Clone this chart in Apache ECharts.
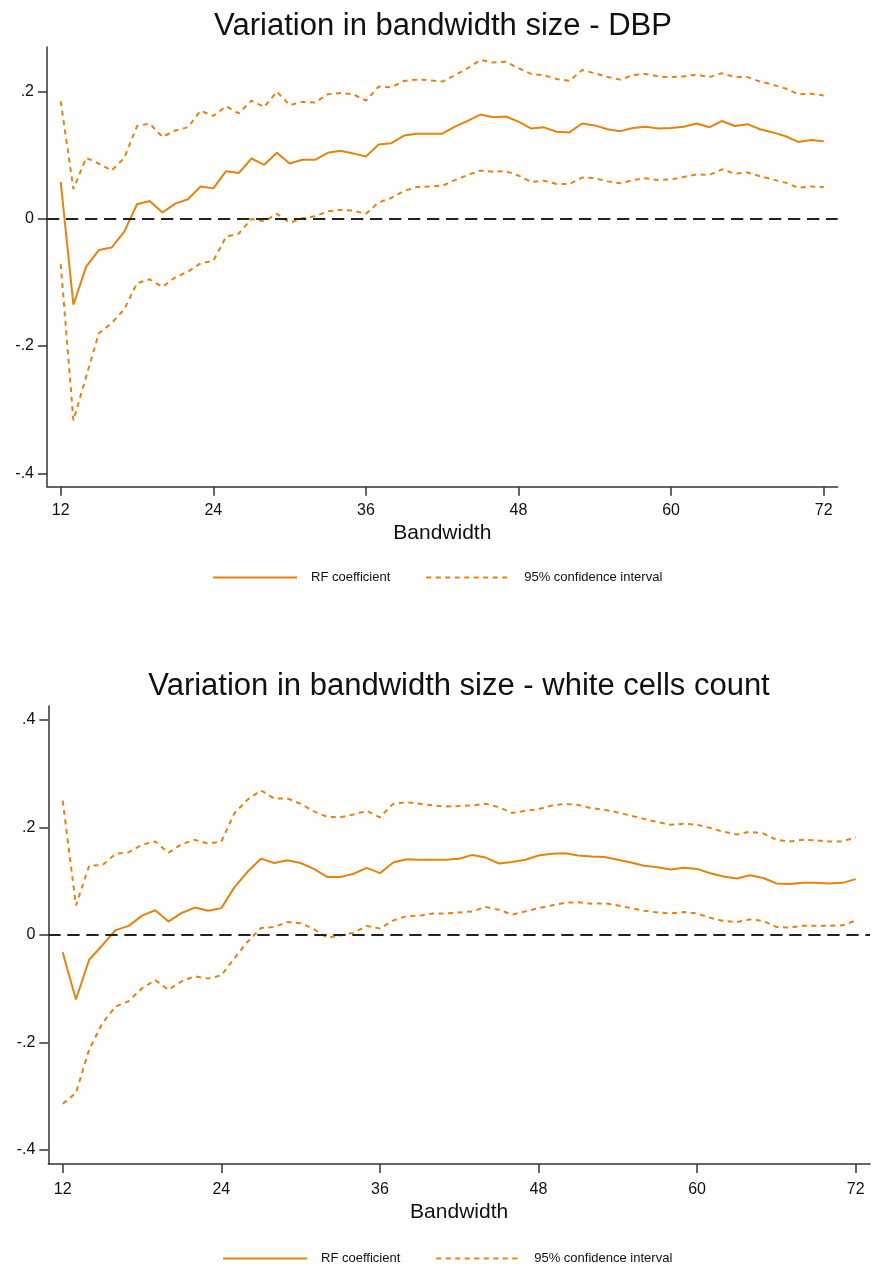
<!DOCTYPE html>
<html>
<head>
<meta charset="utf-8">
<script src="https://cdn.jsdelivr.net/npm/echarts@6/dist/echarts.min.js"></script>
<style>
html,body{margin:0;padding:0;background:#fff;}
#chart{width:872px;height:1268px;}
</style>
</head>
<body>
<div id="chart"></div>
<script>
// ---- Data ----
const bandwidth = [12,13,14,15,16,17,18,19,20,21,22,23,24,25,26,27,28,29,30,31,32,33,34,35,36,37,38,39,40,41,42,43,44,45,46,47,48,49,50,51,52,53,54,55,56,57,58,59,60,61,62,63,64,65,66,67,68,69,70,71,72];
const xTicks = [12,24,36,48,60,72];

const dbpTitle = 'Variation in bandwidth size - DBP';
const dbpYTicks = [-0.4,-0.2,0,0.2];
const dbpCoef = [0.058,-0.135,-0.075,-0.049,-0.045,-0.020,0.023,0.028,0.010,0.024,0.031,0.051,0.048,0.075,0.072,0.095,0.085,0.104,0.087,0.093,0.093,0.104,0.107,0.103,0.098,0.117,0.119,0.131,0.134,0.134,0.134,0.145,0.154,0.164,0.160,0.161,0.153,0.142,0.144,0.137,0.136,0.150,0.147,0.141,0.138,0.143,0.145,0.142,0.143,0.145,0.150,0.144,0.154,0.146,0.149,0.141,0.136,0.130,0.121,0.124,0.122];
const dbpUpper = [0.185,0.047,0.096,0.087,0.076,0.096,0.146,0.150,0.129,0.139,0.144,0.170,0.162,0.177,0.166,0.186,0.176,0.200,0.179,0.184,0.183,0.196,0.198,0.196,0.186,0.208,0.207,0.217,0.219,0.218,0.216,0.226,0.237,0.250,0.246,0.247,0.237,0.228,0.226,0.220,0.217,0.234,0.229,0.223,0.219,0.226,0.228,0.224,0.223,0.224,0.227,0.223,0.229,0.223,0.223,0.216,0.211,0.205,0.196,0.197,0.194];
const dbpLower = [-0.071,-0.317,-0.248,-0.180,-0.164,-0.142,-0.101,-0.095,-0.107,-0.092,-0.083,-0.070,-0.066,-0.028,-0.023,0.000,-0.004,0.008,-0.006,0.001,0.004,0.012,0.014,0.013,0.008,0.026,0.033,0.044,0.050,0.051,0.052,0.061,0.069,0.076,0.074,0.075,0.068,0.058,0.060,0.055,0.055,0.065,0.064,0.059,0.056,0.061,0.064,0.061,0.062,0.066,0.070,0.069,0.078,0.071,0.073,0.067,0.062,0.057,0.049,0.051,0.050];

const wbcTitle = 'Variation in bandwidth size - white cells count';
const wbcYTicks = [-0.4,-0.2,0,0.2,0.4];
const wbcCoef = [-0.032,-0.120,-0.046,-0.019,0.009,0.017,0.036,0.046,0.025,0.041,0.051,0.045,0.050,0.089,0.118,0.142,0.134,0.139,0.134,0.123,0.108,0.108,0.114,0.125,0.115,0.135,0.141,0.140,0.140,0.140,0.142,0.149,0.144,0.133,0.136,0.140,0.148,0.151,0.152,0.148,0.146,0.145,0.140,0.135,0.129,0.126,0.122,0.125,0.123,0.115,0.109,0.105,0.111,0.106,0.096,0.095,0.097,0.097,0.096,0.097,0.104];
const wbcUpper = [0.250,0.055,0.129,0.130,0.151,0.154,0.168,0.174,0.153,0.169,0.177,0.170,0.174,0.227,0.252,0.269,0.254,0.254,0.244,0.230,0.220,0.219,0.224,0.231,0.219,0.244,0.247,0.244,0.241,0.239,0.240,0.241,0.244,0.238,0.227,0.231,0.234,0.241,0.244,0.242,0.236,0.233,0.228,0.222,0.216,0.210,0.205,0.207,0.205,0.199,0.192,0.187,0.192,0.189,0.177,0.174,0.177,0.176,0.174,0.174,0.182];
const wbcLower = [-0.314,-0.294,-0.213,-0.164,-0.133,-0.123,-0.099,-0.084,-0.102,-0.086,-0.077,-0.081,-0.075,-0.043,-0.012,0.013,0.015,0.024,0.022,0.011,-0.005,-0.001,0.004,0.017,0.012,0.027,0.035,0.036,0.040,0.040,0.042,0.044,0.052,0.047,0.038,0.044,0.050,0.055,0.060,0.061,0.058,0.059,0.055,0.050,0.045,0.042,0.040,0.043,0.040,0.032,0.026,0.024,0.029,0.026,0.015,0.014,0.017,0.017,0.017,0.018,0.027];

const xName = 'Bandwidth';
const coefName = 'RF coefficient';
const ciName = '95% confidence interval';

// ---- Styles ----
const FONT = '"Liberation Sans", Arial, Helvetica, sans-serif';
const ORANGE = '#E8820E';
const AXIS = '#333333';

function pairs(arr){ return bandwidth.map((b,i)=>[b, arr[i]]); }
function yFmt(v){
  if (Math.abs(v) < 1e-9) return '0';
  const s = String(Math.abs(Math.round(v*10)/10)).replace(/^0/, '');
  return (v < 0 ? '-' : '') + s;
}

function xAxis(gridIndex, min, max, labelMargin, nameGap){
  return {
    type:'value', gridIndex, min, max,
    name: xName, nameLocation:'middle', nameGap,
    nameTextStyle:{fontFamily:FONT, fontSize:21, color:'#111'},
    axisLine:{show:true, onZero:false, lineStyle:{color:AXIS, width:1.5}},
    axisTick:{show:true, length:9, lineStyle:{color:AXIS, width:1.5}, customValues:xTicks},
    axisLabel:{fontFamily:FONT, fontSize:16, color:'#111', margin:labelMargin, customValues:xTicks},
    splitLine:{show:false}
  };
}
function yAxis(gridIndex, min, max, ticks){
  return {
    type:'value', gridIndex, min, max,
    axisLine:{show:true, onZero:false, lineStyle:{color:AXIS, width:1.5}},
    axisTick:{show:true, length:9, lineStyle:{color:AXIS, width:1.5}, customValues:ticks},
    axisLabel:{fontFamily:FONT, fontSize:16, color:'#111', margin:13, customValues:ticks, formatter:yFmt},
    splitLine:{show:false}
  };
}
function lineSeries(name, arr, idx, dashed, withZero){
  const s = {
    name, type:'line', xAxisIndex:idx, yAxisIndex:idx,
    data: pairs(arr), symbol:'none', silent:true, animation:false,
    lineStyle:{color:ORANGE, width:2, type: dashed ? [5,4.5] : 'solid'},
    itemStyle:{color:ORANGE}
  };
  if (withZero){
    s.markLine = {
      silent:true, symbol:['none','none'], animation:false,
      label:{show:false},
      lineStyle:{color:'#222', width:2, type:[12.3,6.7]},
      data:[{yAxis:0}]
    };
  }
  return s;
}
function legend(left, top){
  return {
    left, top, padding:0, itemWidth:84, itemHeight:10, itemGap:35,
    itemStyle:{color:'rgba(0,0,0,0)', borderWidth:0, opacity:0},
    textStyle:{fontFamily:FONT, fontSize:13, color:'#111', padding:[0,0,0,9]},
    data:[coefName, ciName]
  };
}

const chart = echarts.init(document.getElementById('chart'), null, {renderer:'canvas'});
chart.setOption({
  backgroundColor:'#fff',
  animation:false,
  title:[
    {text:dbpTitle, left:443, top:11, textAlign:'center', padding:0,
     textStyle:{fontFamily:FONT, fontSize:31, fontWeight:'normal', color:'#111'}},
    {text:wbcTitle, left:459, top:671, textAlign:'center', padding:0,
     textStyle:{fontFamily:FONT, fontSize:31, fontWeight:'normal', color:'#111'}}
  ],
  legend:[legend(212, 571), legend(222, 1252)],
  grid:[
    {left:47, top:47, width:790.7, height:439.7},
    {left:48.3, top:706, width:821.7, height:458}
  ],
  xAxis:[xAxis(0, 10.923, 73.10, 15.5, 36), xAxis(1, 10.91, 73.08, 18, 38)],
  yAxis:[yAxis(0, -0.4211, 0.2703, dbpYTicks), yAxis(1, -0.426, 0.426, wbcYTicks)],
  series:[
    lineSeries(coefName, dbpCoef, 0, false, true),
    lineSeries(ciName, dbpUpper, 0, true, false),
    lineSeries(ciName, dbpLower, 0, true, false),
    lineSeries(coefName, wbcCoef, 1, false, true),
    lineSeries(ciName, wbcUpper, 1, true, false),
    lineSeries(ciName, wbcLower, 1, true, false)
  ]
});
</script>
</body>
</html>
